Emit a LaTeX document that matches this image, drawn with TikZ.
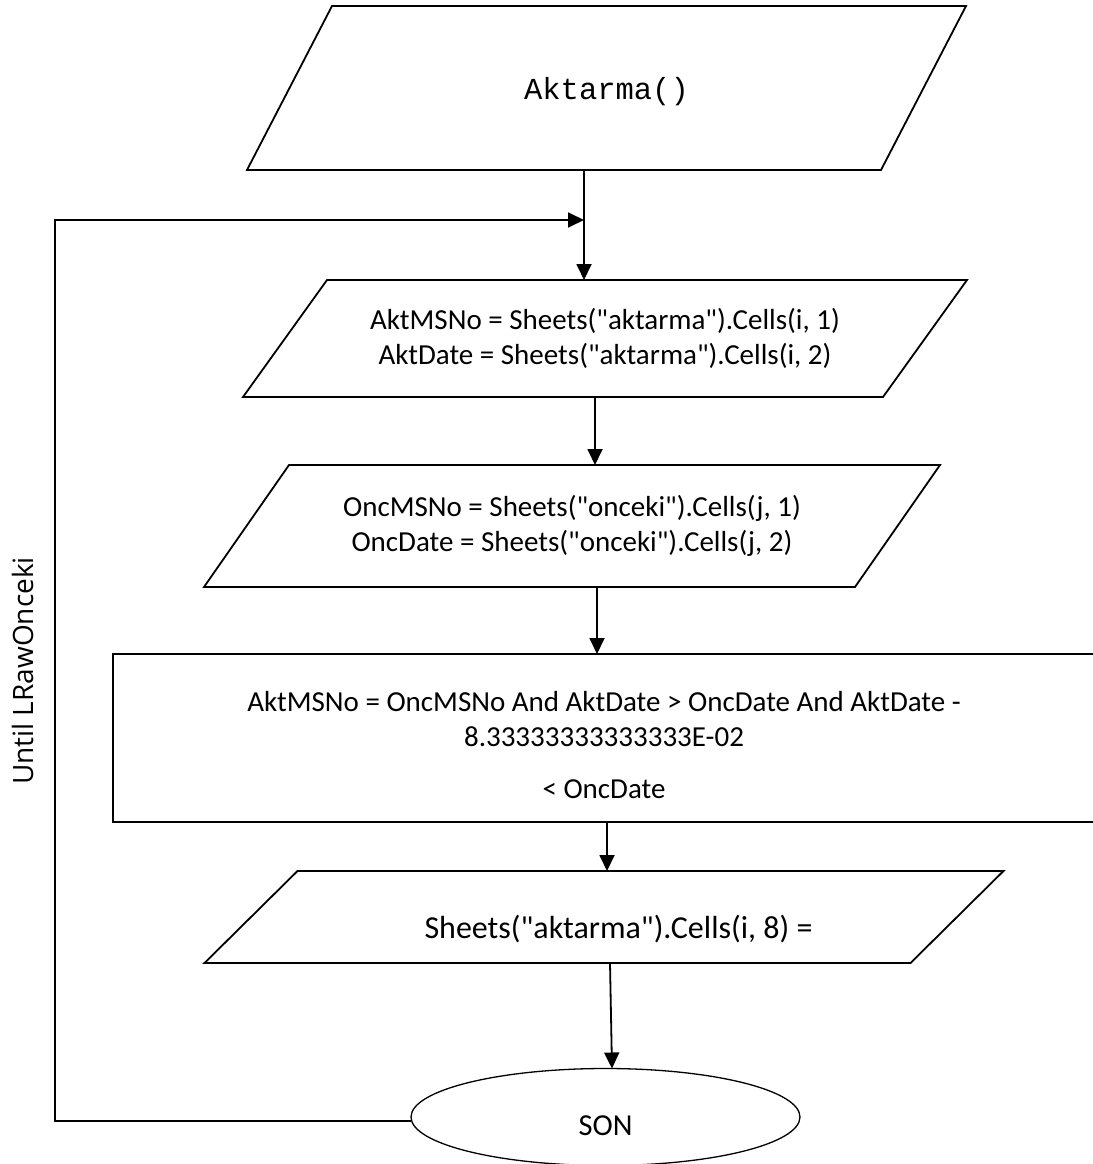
\documentclass[tikz,border=0pt]{standalone}
\usepackage{fontspec}
\setmainfont{Carlito}[Ligatures=TeXOff]
\newfontfamily\codefont{Liberation Mono}[Ligatures=TeXOff]
\newfontfamily\sidefont{Open Sans}
\usetikzlibrary{arrows.meta,shapes.geometric}
% outline of an input/output box around a rectangular node:
% #1 = node name, #2 = half of the horizontal slant
\newcommand\slantframe[2]{%
  \draw[frame] ([xshift=-#2]#1.south west) -- ([xshift=-#2]#1.south east)
    -- ([xshift=#2]#1.north east) -- ([xshift=#2]#1.north west) -- cycle;}
\begin{document}
\begin{tikzpicture}[x=1pt,y=-1pt,
  font=\fontsize{29}{35}\selectfont,
  frame/.style={line width=1.8pt},
  flowline/.style={line width=1.8pt},
  flowarrow/.style={flowline,-{Triangle[length=16pt,width=15pt]}},
  iobox/.style={rectangle,inner sep=0pt,outer sep=0pt,align=center},
  procbox/.style={draw,line width=1.8pt,rectangle,inner sep=0pt,outer sep=0pt},
  endbox/.style={draw,line width=1.3pt,ellipse,inner sep=0pt,outer sep=0pt}]
\useasboundingbox (0,0) rectangle (1092,1164);
\fill[white] (0,0) rectangle (1092,1164);

% input / output boxes
\node[iobox,minimum width=634pt,minimum height=164pt,text depth=0pt] (start) at (606.5,88)
      {\codefont\fontsize{30.5}{35}\selectfont Aktarma()};
\slantframe{start}{42.5pt}
\node[iobox,minimum width=640pt,minimum height=117pt] (readakt) at (605,338.5)
      {AktMSNo = Sheets("aktarma").Cells(i, 1)\\AktDate = Sheets("aktarma").Cells(i, 2)};
\slantframe{readakt}{42pt}
\node[iobox,minimum width=651pt,minimum height=122pt] (readonc) at (572,526)
      {OncMSNo = Sheets("onceki").Cells(j, 1)\\OncDate = Sheets("onceki").Cells(j, 2)};
\slantframe{readonc}{42.5pt}

% comparison step
\node[procbox,minimum width=982pt,minimum height=168pt] (cond) at (604,738) {};
\node[align=center,inner sep=0pt] (condtext) at (604,745)
      {AktMSNo = OncMSNo And AktDate > OncDate And AktDate -\\8.33333333333333E-02\\[17pt]< OncDate};

\node[iobox,minimum width=706pt,minimum height=92pt,text height=47.5pt,text depth=5pt,
      font=\fontsize{32}{38}\selectfont] (write) at (604,917)
      {\hspace*{29pt}Sheets("aktarma").Cells(i, 8) =};
\slantframe{write}{46.5pt}

% terminator
\node[endbox,minimum width=389pt,minimum height=97pt,text height=37.6pt,text depth=0pt,
      font=\fontsize{30.5}{36}\selectfont] (son) at (605.5,1117) {SON};

% loop condition
\node[rotate=90,inner sep=0pt,font=\sidefont\fontsize{28}{32}\selectfont] (until) at (23,671) {Until LRawOnceki};

% connector positions
\coordinate (loopcorner) at (55,220);
\coordinate (merge) at (584,220);
\coordinate (x2) at (595,0);
\coordinate (x3) at (597,0);
\coordinate (x4) at (607,0);
\coordinate (x5a) at (610,0);
\coordinate (x5b) at (612,0);

\draw[flowarrow] (start.south -| merge) -- (readakt.north -| merge);
\draw[flowarrow] (readakt.south -| x2) -- (readonc.north -| x2);
\draw[flowarrow] (readonc.south -| x3) -- (cond.north -| x3);
\draw[flowarrow] (cond.south -| x4) -- (write.north -| x4);
\draw[flowarrow] (write.south -| x5a) -- (son.north -| x5b);
\draw[flowarrow] ([yshift=-4pt]son.west) -| (loopcorner) -- (merge);
\end{tikzpicture}
\end{document}
